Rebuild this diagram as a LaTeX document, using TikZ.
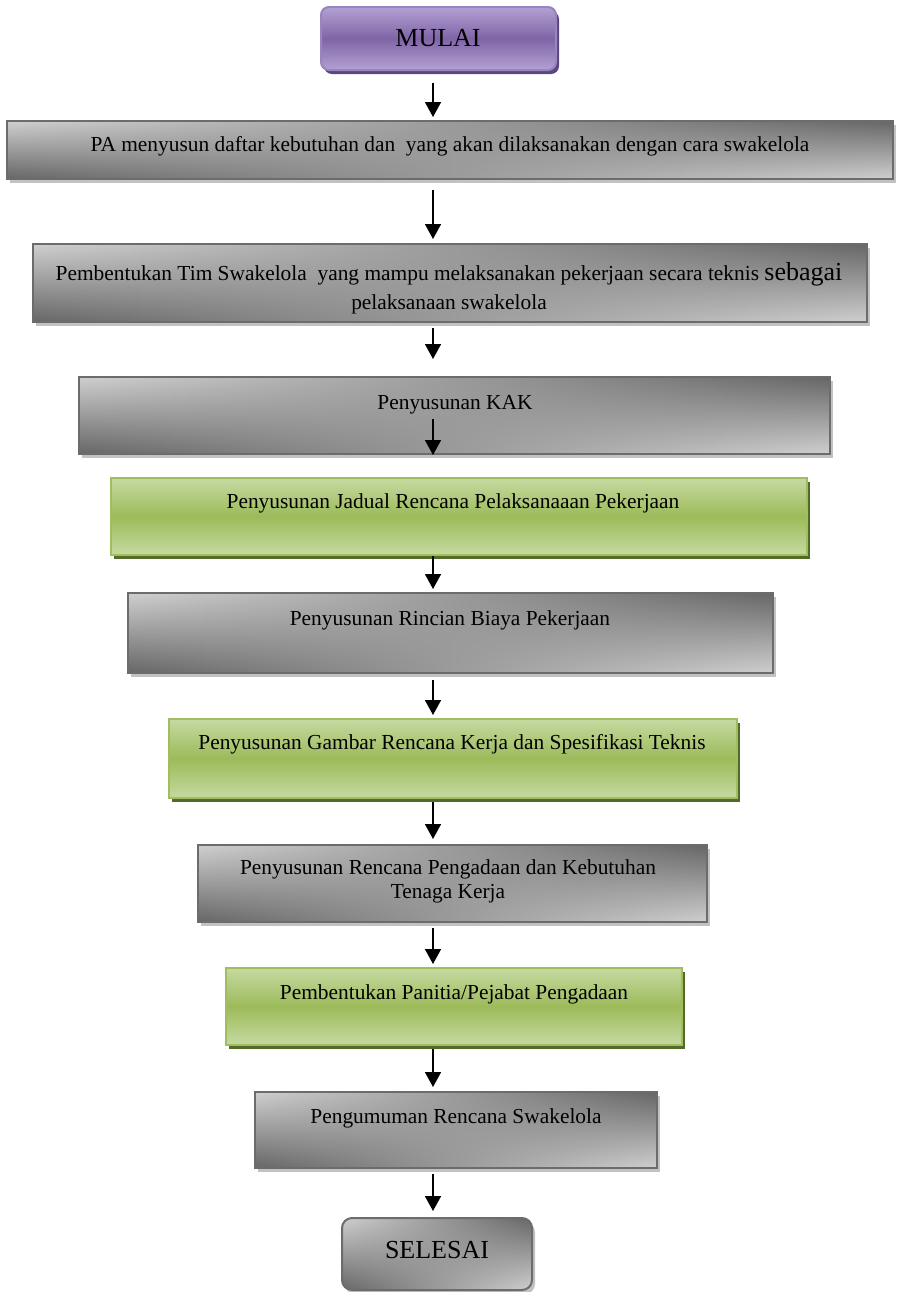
\documentclass[tikz,border=0pt]{standalone}
\usepackage{fontspec}
\setmainfont{Liberation Serif}
\usepackage{tikz}
\usetikzlibrary{arrows.meta,calc,shadows,shadings}

\definecolor{grayhi}{RGB}{207,207,207}
\definecolor{graylo}{RGB}{102,102,102}
\definecolor{grayline}{RGB}{108,108,108}
\definecolor{grayshadow}{RGB}{194,194,194}
\definecolor{greenhi}{RGB}{198,217,161}
\definecolor{greenmid}{RGB}{156,187,90}
\definecolor{greenline}{RGB}{158,190,96}
\definecolor{greenshadow}{RGB}{84,106,40}
\definecolor{purplehi}{RGB}{178,162,212}
\definecolor{purplemid}{RGB}{128,100,166}
\definecolor{purpleline}{RGB}{152,132,190}
\definecolor{purpleshadow}{RGB}{92,70,128}

\tikzset{
  graybox/.style={draw=grayline, line width=1pt, inner sep=0pt,
    shade, shading=bilinear interpolation,
    upper left=grayhi, upper right=graylo, lower left=graylo, lower right=grayhi,
    drop shadow={shadow xshift=1.5pt, shadow yshift=-2pt, fill=grayshadow, opacity=1}},
  greenbox/.style={draw=greenline, line width=1pt, inner sep=0pt,
    top color=greenhi, bottom color=greenhi, middle color=greenmid,
    drop shadow={shadow xshift=1.5pt, shadow yshift=-2pt, fill=greenshadow, opacity=1}},
  startbox/.style={draw=purpleline, line width=1pt, inner sep=0pt, rounded corners=4pt,
    top color=purplehi, bottom color=purplehi, middle color=purplemid,
    drop shadow={shadow xshift=1.5pt, shadow yshift=-2pt, fill=purpleshadow, opacity=1}},
  endbox/.style={graybox, rounded corners=5pt},
  boxtext/.style={align=center, inner sep=0pt, font=\fontsize{10.7}{12}\selectfont},
  termtext/.style={inner sep=0pt, font=\fontsize{13}{15}\selectfont},
  flow/.style={-{Triangle[width=8pt,length=7.5pt]}, line width=0.8pt},
}

\begin{document}
\begin{tikzpicture}[x=0.5pt,y=-0.5pt]
   \useasboundingbox (0,0) rectangle (897,1292);
   \coordinate (axis) at (433,0);

   % boxes
   \node[startbox, minimum width=117.5pt, minimum height=31.5pt] (mulai) at (438.5,38.5) {};
   \node[graybox,  minimum width=443pt,   minimum height=29pt]   (b1) at (450,150) {};
   \node[graybox,  minimum width=417pt,   minimum height=39pt]   (b2) at (450,283) {};
   \node[graybox,  minimum width=375.5pt, minimum height=38.5pt] (b3) at (454.5,415.5) {};
   \node[greenbox, minimum width=348pt,   minimum height=38.5pt] (b4) at (459,516.5) {};
   \node[graybox,  minimum width=322.5pt, minimum height=40pt]   (b5) at (450.5,633) {};
   \node[greenbox, minimum width=284pt,   minimum height=39.5pt] (b6) at (453,758.5) {};
   \node[graybox,  minimum width=254.5pt, minimum height=38.5pt] (b7) at (452.5,883.5) {};
   \node[greenbox, minimum width=228pt,   minimum height=38.5pt] (b8) at (454,1006.5) {};
   \node[graybox,  minimum width=201pt,   minimum height=38pt]   (b9) at (456,1130) {};
   \node[endbox,   minimum width=95pt,    minimum height=36pt]   (selesai) at (437,1254) {};

   % texts
   \node[termtext] (tmulai) at (438,38) {MULAI};
   \node[boxtext] (t1) at (450,146) {PA menyusun daftar kebutuhan dan\ \ yang akan dilaksanakan dengan cara swakelola};
   \node[boxtext] (t2) at (449,288) {Pembentukan Tim Swakelola\ \ yang mampu melaksanakan pekerjaan secara teknis {\fontsize{13}{15}\selectfont sebagai}\\[2.5pt] pelaksanaan swakelola};
   \node[boxtext] (t3) at (455,405) {Penyusunan KAK};
   \node[boxtext] (t4) at (453,503) {Penyusunan Jadual Rencana Pelaksanaaan Pekerjaan};
   \node[boxtext] (t5) at (450,620) {Penyusunan Rincian Biaya Pekerjaan};
   \node[boxtext] (t6) at (452,744) {Penyusunan Gambar Rencana Kerja dan Spesifikasi Teknis};
   \node[boxtext] (t7) at (448,881) {Penyusunan Rencana Pengadaan dan Kebutuhan\\ Tenaga Kerja};
   \node[boxtext] (t8) at (454,994) {Pembentukan Panitia/Pejabat Pengadaan};
   \node[boxtext] (t9) at (456,1118) {Pengumuman Rencana Swakelola};
   \node[termtext] (tselesai) at (437,1250) {SELESAI};

   % arrows
   \draw[flow, shorten <=6pt,   shorten >=1.5pt] (mulai.south -| axis) -- (b1.north -| axis);
   \draw[flow, shorten <=5pt,   shorten >=2pt]   (b1.south -| axis) -- (b2.north -| axis);
   \draw[flow, shorten <=2.5pt, shorten >=8.5pt] (b2.south -| axis) -- (b3.north -| axis);
   \draw[flow] ($(b3.south -| axis)+(0,-36)$) -- (b3.south -| axis);
   \draw[flow, shorten >=1.5pt] (b4.south -| axis) -- (b5.north -| axis);
   \draw[flow, shorten <=3pt,   shorten >=1.5pt] (b5.south -| axis) -- (b6.north -| axis);
   \draw[flow, shorten <=1.5pt, shorten >=2.5pt] (b6.south -| axis) -- (b7.north -| axis);
   \draw[flow, shorten <=2.5pt, shorten >=1.5pt] (b7.south -| axis) -- (b8.north -| axis);
   \draw[flow, shorten <=1.5pt, shorten >=2pt]   (b8.south -| axis) -- (b9.north -| axis);
   \draw[flow, shorten <=2.5pt, shorten >=3pt]   (b9.south -| axis) -- (selesai.north -| axis);
\end{tikzpicture}
\end{document}
